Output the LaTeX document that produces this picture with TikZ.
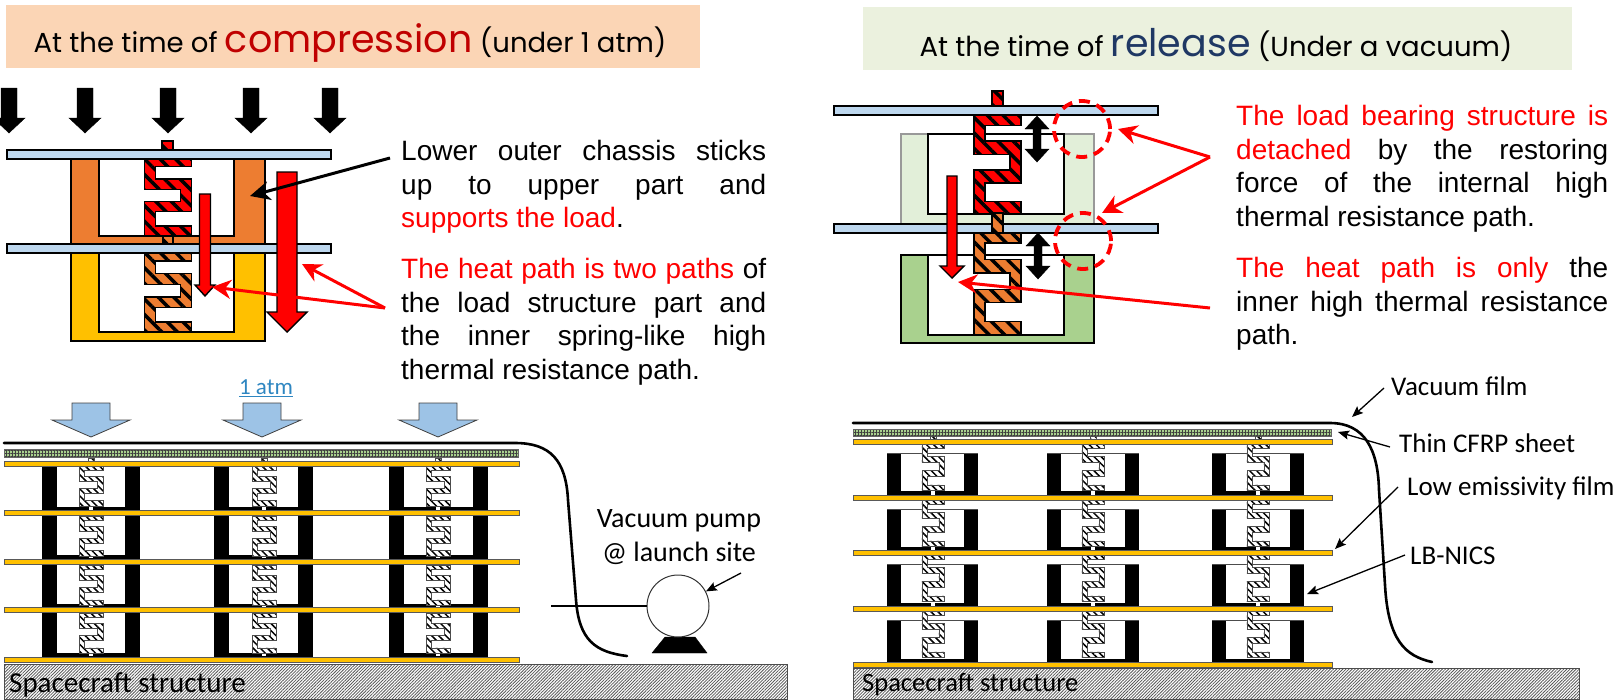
\documentclass[tikz,border=0pt]{standalone}
\usepackage{fontspec}
\setmainfont{Liberation Sans}
\newfontfamily\titlefont{Poppins}
\newfontfamily\labelfont{Carlito}
\usetikzlibrary{arrows.meta, patterns.meta, shapes.geometric}
\definecolor{platebl}{HTML}{BDD7EE}
\definecolor{chassisor}{HTML}{ED7D31}
\definecolor{chassisye}{HTML}{FFC000}
\definecolor{chassislg}{HTML}{E2EFD9}
\definecolor{chassisgr}{HTML}{A9D18E}
\definecolor{titleor}{HTML}{FBD5B5}
\definecolor{titlegr}{HTML}{EBF1DE}
\definecolor{atmbl}{HTML}{9DC3E6}
\definecolor{atmtx}{HTML}{2E86C1}
\tikzset{
  body/.style={draw=black,line width=1.4pt},
  plate/.style={draw=black,line width=1.6pt,fill=platebl},
  hatchred/.style={draw=black,line width=1.4pt,preaction={fill=red},pattern={Lines[angle=-45,distance=11pt,line width=3.5pt]},pattern color=black},
  hatchor/.style={draw=black,line width=1.4pt,preaction={fill=chassisor},pattern={Lines[angle=-45,distance=11pt,line width=3.5pt]},pattern color=black},
  hatchwh/.style={draw=black!70,line width=.7pt,preaction={fill=white},pattern={Lines[angle=-45,distance=5pt,line width=1.5pt]},pattern color=black},
  cfrp/.style={draw=black!60,line width=.5pt,preaction={fill=chassisgr},pattern={Hatch[angle=0,distance=3pt,line width=.8pt]},pattern color=black!75},
  sheet/.style={draw=black!65,line width=.7pt,fill=chassisye},
  ground/.style={draw=black!70,line width=.8pt,preaction={fill=white},pattern={Lines[angle=45,distance=2.2pt,line width=.8pt]},pattern color=black!65},
  film/.style={line width=2.6pt,line cap=round},
  redcall/.style={draw=red,line width=3pt,-{Stealth[length=19pt,width=19pt,inset=6pt]}},
  blackcall/.style={draw=black,line width=3pt,-{Stealth[length=20pt,width=19pt,inset=6pt]}},
  thincall/.style={draw=black,line width=1.3pt,-{Stealth[length=11pt,width=9pt,inset=2pt]}},
  desc/.style={anchor=north west,inner sep=0pt,text width=#1,align=justify,font=\fontsize{28}{33.7}\selectfont},
  lbl/.style={inner sep=0pt,font=\labelfont\fontsize{27}{34}\selectfont},
  gap/.style={circle,draw=red,line width=3.8pt,dash pattern=on 11pt off 7pt,minimum size=56pt,inner sep=0pt}
}
\newcommand{\blockarrow}[7]{\draw[#1] ({#2-#6},#3) -- ({#2+#6},#3) -- ({#2+#6},#4) -- ({#2+#7},#4) -- (#2,#5) -- ({#2-#7},#4) -- ({#2-#6},#4) -- cycle;}
\newcommand{\hatchspring}[5]{\begin{scope}[shift={(#2,#3)},xscale=#4,yscale=#5]
\draw[#1] (-23.5,0) -- (23.5,0) -- (23.5,7.7) -- (-12.5,7.7) -- (-12.5,20) -- (23.5,20) -- (23.5,52.7) -- (-12.5,52.7) -- (-12.5,67) -- (23.5,67) -- (23.5,76.7) -- (-23.5,76.7) -- (-23.5,42.7) -- (12.5,42.7) -- (12.5,30.3) -- (-23.5,30.3) -- cycle;
\end{scope}}
\begin{document}
\begin{tikzpicture}[x=1pt,y=-1pt]
\useasboundingbox (0,0) rectangle (1621,699);

\fill[titleor] (6,5) rectangle (700,68);
\fill[titlegr] (863,7) rectangle (1572,70);
\node[inner sep=0pt,font=\titlefont\fontsize{27.5}{30}\selectfont] (titleL) at (350,43) {At the time of {\fontsize{38}{38}\selectfont\color[HTML]{C00000}compression} (under 1 atm)};
\node[inner sep=0pt,font=\titlefont\fontsize{27.5}{30}\selectfont] (titleR) at (1216,45) {At the time of {\fontsize{38}{38}\selectfont\color[HTML]{1F3864}release} (Under a vacuum)};

\foreach \x in {9,85,168,251,330} {
  \blockarrow{fill=black}{\x}{88}{118}{133}{8}{16}
}

\draw[body,fill=chassisor] (71,159) -- (265,159) -- (265,244) -- (71,244) -- cycle;
\draw[body,fill=white] (99,159) -- (234,159) -- (234,236) -- (99,236) -- cycle;
\draw[body,fill=chassisye] (71,253) -- (265,253) -- (265,341) -- (71,341) -- cycle;
\draw[body,fill=white] (99,253) -- (234,253) -- (234,332) -- (99,332) -- cycle;
\hatchspring{hatchred}{168}{159}{1}{1}
\hatchspring{hatchor}{168}{253}{1}{1.03}
\draw[hatchred] (162,141) rectangle (173,150);
\draw[hatchor] (163,236) rectangle (173,244);
\draw[plate] (7,150) rectangle (331,159);
\draw[plate] (7,244) rectangle (331,253);
\blockarrow{fill=red,draw=black,line width=1.4pt}{205}{194}{285}{296}{5.5}{10}
\blockarrow{fill=red,draw=black,line width=1.4pt}{287}{172}{312}{332}{10}{20}

\draw[body,draw=black!40,fill=chassislg] (901,134) rectangle (1094,224);
\draw[body,fill=white] (928,134) -- (1064,134) -- (1064,214) -- (928,214) -- cycle;
\draw[body,fill=chassisgr] (901,255) rectangle (1094,343);
\draw[body,fill=white] (928,255) rectangle (1064,335);
\draw[plate] (834,106) rectangle (1158,115);
\draw[plate] (834,224) rectangle (1158,233);
\hatchspring{hatchred}{997.5}{115.5}{1}{1.28}
\hatchspring{hatchor}{997.5}{233}{1}{1.32}
\draw[hatchred] (992,91) rectangle (1003,106);
\draw[hatchor] (992,213) rectangle (1003,233);
\blockarrow{fill=red,draw=black,line width=1.4pt}{952}{176}{266}{278}{5}{12}
\draw[fill=black] (1037,116) -- (1049,129) -- (1041,129) -- (1041,149) -- (1049,149) -- (1037,162) -- (1025,149) -- (1033,149) -- (1033,129) -- (1025,129) -- cycle;
\draw[fill=black] (1038,233) -- (1050,246) -- (1042,246) -- (1042,266) -- (1050,266) -- (1038,279) -- (1026,266) -- (1034,266) -- (1034,246) -- (1026,246) -- cycle;
\node[gap] (gapTop) at (1082,129) {};
\node[gap] (gapMid) at (1083,241) {};

\coordinate (chassisTail) at (390,158);
\coordinate (chassisTip) at (250,196);
\coordinate (heatTail) at (385,308);
\coordinate (heatBig) at (302,264);
\coordinate (heatSmall) at (212,287);
\coordinate (gapTail) at (1210,157);
\coordinate (gapTipA) at (1118,129);
\coordinate (gapTipB) at (1102,213);
\coordinate (innerTail) at (1210,308);
\coordinate (innerTip) at (958,282);
\draw[blackcall] (chassisTail) -- (chassisTip);
\draw[redcall] (heatTail) -- (heatBig);
\draw[redcall] (heatTail) -- (heatSmall);
\draw[redcall] (gapTail) -- (gapTipA);
\draw[redcall] (gapTail) -- (gapTipB);
\draw[redcall] (innerTail) -- (innerTip);

\node[desc=365pt] (loadtext) at (401,140) {Lower outer chassis sticks\linebreak up to upper part and\linebreak {\color{red}supports the load}.};
\node[desc=365pt] (heattext) at (401,258) {{\color{red}The heat path is two paths} of\linebreak the load structure part and\linebreak the inner spring-like high\linebreak thermal resistance path.};
\node[desc=372pt] (detachtext) at (1236,105) {{\color{red}The load bearing structure is\linebreak detached} by the restoring\linebreak force of the internal high\linebreak thermal resistance path.};
\node[desc=372pt] (onlytext) at (1236,257) {{\color{red}The heat path is only} the\linebreak inner high thermal resistance\linebreak path.};

\foreach \x in {91,262,438} {
  \blockarrow{fill=atmbl,draw=black!75,line width=.8pt}{\x}{403}{420}{437}{19}{39}
}
\node[lbl,text=atmtx,font=\labelfont\fontsize{23}{25}\selectfont] (atm) at (266,388) {\underline{1 atm}};

\draw[ground] (4,664) rectangle (787,699);
\draw[cfrp] (4,449) rectangle (518,457);
\foreach \a/\b/\s in {42/140/91,214/313/264,389/488/438} {
  \fill (\a,466) rectangle (\b,658);
  \foreach \ya/\yb in {466/507,516/555,565/604,613/653} {
    \fill[white] ({\a+15},\ya) rectangle ({\b-15},\yb);
    \fill[white] ({\s-2},\yb) rectangle ({\s+2},{\yb+3});
    \hatchspring{hatchwh}{\s}{\ya}{.51}{.52}
  }
  \draw[hatchwh] ({\s-3},458) rectangle ({\s+3},465);
}
\foreach \y in {464,513,562,610,660}
  \draw[sheet] (4,{\y-2.5}) rectangle (519,{\y+2.5});
\draw[film] (4,443) -- (515,443) .. controls (550,443) and (566,460) .. (568,500) -- (576,600) .. controls (579,640) and (595,652) .. (627,656);

\draw[fill=black] (652,653) -- (707,653) -- (695,637) -- (665,637) -- cycle;
\node[circle,draw=black!80,fill=white,line width=1pt,minimum size=62pt,inner sep=0pt] (pump) at (678,606) {};
\coordinate (pipeEnd) at (551,606);
\draw[line width=1.5pt] (pipeEnd) -- (pump);
\coordinate (pumpTail) at (741,573);
\draw[thincall] (pumpTail) -- (pump);
\node[lbl,align=center,font=\labelfont\fontsize{28}{34}\selectfont] (pumptext) at (679,537) {Vacuum pump\\@ launch site};
\node[lbl,anchor=west,font=\labelfont\fontsize{29}{30}\selectfont] (scL) at (9,685) {Spacecraft structure};

\draw[ground] (853,668) rectangle (1579,699);
\draw[cfrp] (853,429) rectangle (1331,436);
\foreach \a/\b/\s in {887/978/933,1047/1139/1093,1212/1304/1258} {
  \foreach \ya/\yb in {453/495,509/551,564/607,620/663} {
    \fill (\a,\ya) rectangle (\b,\yb);
    \fill[white] ({\a+14},\ya) rectangle ({\b-14},{\yb-4});
    \draw[black!70,line width=.7pt] (\a,\ya) -- (\b,\ya);
  }
  \foreach \ya in {444,500,555,611} {
    \hatchspring{hatchwh}{\s}{\ya}{.47}{.61}
  }
  \foreach \yb in {491,547,602} {
    \fill[white] ({\s-2},\yb) rectangle ({\s+2},{\yb+4});
  }
  \draw[hatchwh] ({\s-3},436) rectangle ({\s+3},440);
}
\foreach \y in {442,498,553,609,665}
  \draw[sheet] (853,{\y-2.5}) rectangle (1332,{\y+2.5});
\draw[film] (853,423) -- (1330,423) .. controls (1365,423) and (1378,450) .. (1379,490) -- (1385,585) .. controls (1388,640) and (1405,656) .. (1432,662);
\node[lbl,anchor=west,font=\labelfont\fontsize{26.5}{30}\selectfont] (scR) at (862,685) {Spacecraft structure};

\node[lbl,anchor=west] (vacfilm) at (1391,386) {Vacuum film};
\node[lbl,anchor=west] (thincfrp) at (1399,443) {Thin CFRP sheet};
\node[lbl,anchor=west] (lowfilm) at (1407,488) {Low emissivity film};
\node[lbl,anchor=west] (lbnics) at (1410,556) {LB-NICS};
\coordinate (vacTip) at (1352,417);
\coordinate (cfrpTip) at (1338,432);
\coordinate (sheetTip) at (1335,549);
\coordinate (nicsTip) at (1307,594);
\coordinate (vacTail) at (1384,388);
\coordinate (cfrpTail) at (1390,447);
\coordinate (sheetTail) at (1398,487);
\coordinate (nicsTail) at (1405,555);
\draw[thincall] (vacTail) -- (vacTip);
\draw[thincall] (cfrpTail) -- (cfrpTip);
\draw[thincall] (sheetTail) -- (sheetTip);
\draw[thincall] (nicsTail) -- (nicsTip);
\end{tikzpicture}
\end{document}
